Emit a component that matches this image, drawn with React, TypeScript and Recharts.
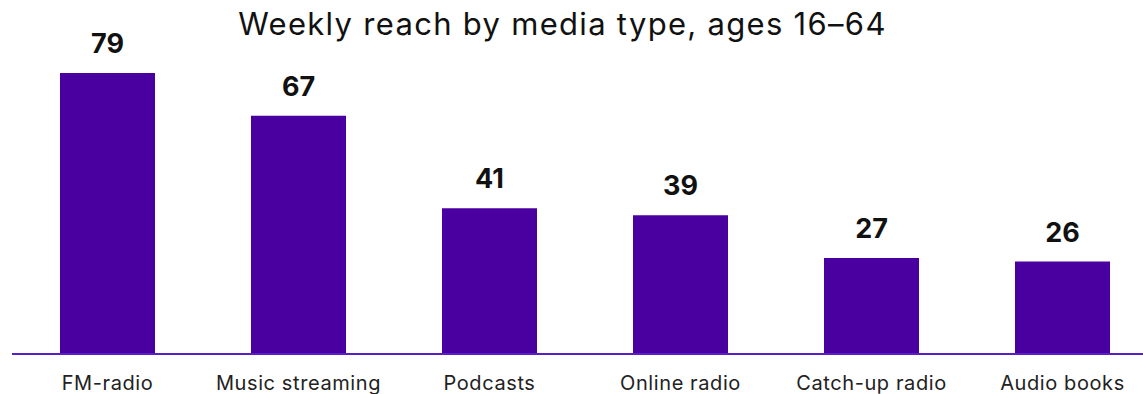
import { BarChart, Bar, XAxis, YAxis, LabelList } from "recharts";

const categories = [
  "FM-radio",
  "Music streaming",
  "Podcasts",
  "Online radio",
  "Catch-up radio",
  "Audio books",
];
const reach = [79, 67, 41, 39, 27, 26];

const data = categories.map((name, i) => ({ name, reach: reach[i] }));

const FONT = "Inter, 'Noto Sans', sans-serif";

export default function App() {
  return (
    <div
      style={{
        position: "relative",
        width: 1143,
        height: 394,
        overflow: "hidden",
        background: "#fff",
        fontFamily: FONT,
      }}
    >
      <style>{"html,body{margin:0;padding:0;overflow:hidden}"}</style>
      <div
        style={{
          position: "absolute",
          top: 4,
          left: 0,
          width: 1125,
          textAlign: "center",
          fontSize: 31,
          letterSpacing: 1.3,
          color: "#111",
          lineHeight: "40px",
        }}
      >
        Weekly reach by media type, ages 16–64
      </div>
      <BarChart
        width={1143}
        height={394}
        data={data}
        margin={{ top: 73, right: -15, bottom: 0, left: 12 }}
        barSize={95}
      >
        <XAxis
          dataKey="name"
          height={40}
          axisLine={{ stroke: "#5a1ec8", strokeWidth: 2 }}
          tickLine={false}
          tickSize={6}
          tickMargin={16}
          interval={0}
          tick={{ fill: "#222", fontSize: 20, letterSpacing: 0.6, fontFamily: FONT }}
        />
        <YAxis hide domain={[0, 79]} />
        <Bar dataKey="reach" fill="#4a00a0" isAnimationActive={false}>
          <LabelList
            dataKey="reach"
            position="top"
            offset={20}
            fill="#111"
            fontSize={27}
            fontWeight={700}
            fontFamily={FONT}
          />
        </Bar>
      </BarChart>
    </div>
  );
}
